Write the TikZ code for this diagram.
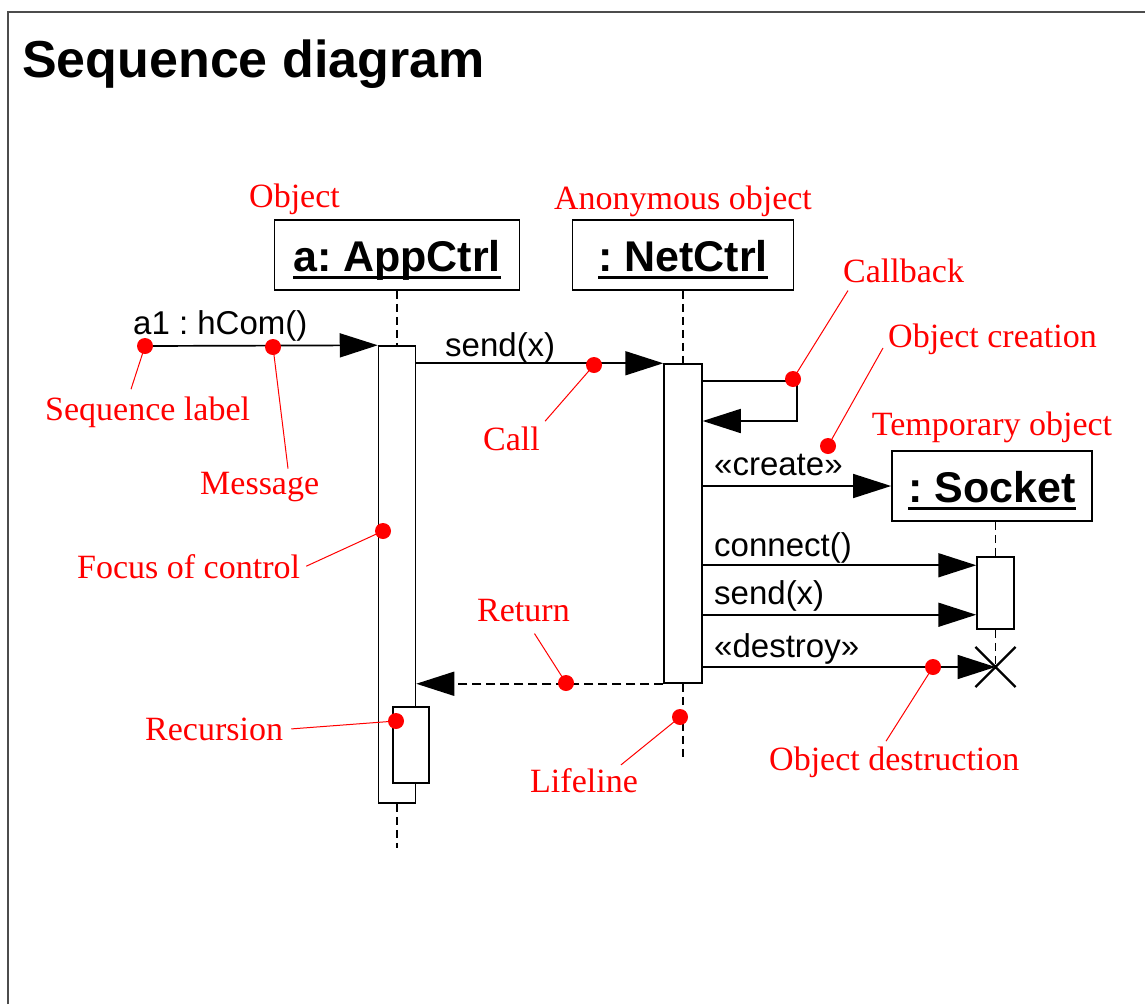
\documentclass[tikz,border=0pt]{standalone}
\usepackage{fontspec}
\setmainfont{Liberation Serif}
\setsansfont{Liberation Sans}
\usetikzlibrary{arrows.meta,positioning,shapes.misc}
\frenchspacing
\newcommand{\objname}[1]{\setbox0\hbox{#1}\rlap{\copy0}\rule[-8pt]{\wd0}{3pt}}

\begin{document}
\begin{tikzpicture}[x=1pt, y=-1pt,
  obj/.style={draw, line width=1.8pt, font=\sffamily\bfseries\fontsize{43}{50}\selectfont,
    minimum height=70pt, text height=36pt, text depth=4pt, inner sep=0pt},
  act/.style={draw, line width=1.5pt, fill=white, inner sep=0pt},
  msg/.style={-{Triangle[length=38pt, width=24pt]}, line width=1.7pt},
  life/.style={dash pattern=on 8pt off 5pt, line width=1.3pt},
  lbl/.style={anchor=base west, inner sep=0pt, font=\sffamily\fontsize{33}{39}\selectfont},
  note/.style={anchor=base west, inner sep=0pt, text=red, font=\fontsize{34}{40}\selectfont},
  dot/.style={circle, fill=red, inner sep=0pt, minimum size=16pt},
  pin/.style={red, line width=1pt}
]
\useasboundingbox (0,0) rectangle (1145,1004);
\draw[line width=2.5pt, black!70] (8,1004) -- (8,12) -- (1145,12);
\node[anchor=base west, inner sep=0pt, font=\sffamily\bfseries\fontsize{52}{60}\selectfont]
  (title) at (22,77) {Sequence diagram};

% objects
\node[obj, minimum width=245pt] (app) at (397,255) {\objname{a: AppCtrl}};
\node[obj, minimum width=221pt] (net) at (683,255) {\objname{: NetCtrl}};
\node[obj, minimum width=200pt] (sock) at (992,486) {\objname{: Socket}};

% activations
\node[act, minimum width=37pt, minimum height=457pt] (appAct) at (397,574.5) {};
\node[act, minimum width=36pt, minimum height=76pt] (rec) at (411,745) {};
\node[act, minimum width=38pt, minimum height=319pt] (netAct) at (683,523.5) {};
\node[act, minimum width=37pt, minimum height=72pt] (sockAct) at (995.5,593) {};
\node[draw, cross out, line width=2.2pt, minimum size=38pt, inner sep=0pt] (kill) at (995.5,667) {};

% lifelines
\coordinate (appEnd) at (397,848);
\coordinate (netEnd) at (683,760);
\draw[life] (app.south) -- (appAct.north);
\draw[life] (appAct.south) -- (appEnd);
\draw[life] (net.south) -- (netAct.north);
\draw[life] (netAct.south) -- (netEnd);
\draw[life] (sockAct.north |- sock.south) -- (sockAct.north);
\draw[life] (sockAct.south) -- (kill.center);

% messages
\coordinate (hStart) at (145,346);
\coordinate (cbTop) at (797,381);
\coordinate (cbBot) at (797,421);
\coordinate (cn) at ([yshift=-9pt]sockAct.north west);
\coordinate (sx) at ([yshift=15pt]sockAct.south west);
\draw[msg] (hStart) -- (appAct.north west);
\draw[msg] (appAct.east |- netAct.north) -- (netAct.north west);
\draw[msg] (netAct.east |- cbTop) -- (cbTop) -- (cbBot) -- (netAct.east |- cbBot);
\draw[msg] (netAct.east |- sock.west) -- (sock.west);
\draw[msg] (netAct.east |- cn) -- (cn);
\draw[msg] (netAct.east |- sx) -- (sx);
\draw[msg] (netAct.east |- kill) -- (kill.center);
\draw[msg, dash pattern=on 9pt off 5pt] (netAct.south west) -- (appAct.east |- netAct.south);

\node[lbl] (hCom) at (133,334) {a1 : hCom()};
\node[lbl] (sendA) at (445,356) {send(x)};
\node[lbl] (create) at (714,475) {«create»};
\node[lbl] (connect) at (714,556) {connect()};
\node[lbl] (sendB) at (714,604) {send(x)};
\node[lbl] (destroy) at (714,657) {«destroy»};

% notes
\node[note] (objNote) at (249,207) {Object};
\node[note, above=2pt of net] (anonNote) {Anonymous object};
\node[note, above=7pt of sock] (tmpNote) {Temporary object};
\node[note] (seqNote) at (45,420) {Sequence label};
\node[note] (msgNote) at (200,494) {Message};
\node[note] (focNote) at (77,578) {Focus of control};
\node[note] (recNote) at (145,740) {Recursion};
\node[note] (callNote) at (483,450) {Call};
\node[note] (retNote) at (477,621) {Return};
\node[note] (lifeNote) at (530,792) {Lifeline};
\node[note] (cbNote) at (843,282) {Callback};
\node[note] (newNote) at (888,347) {Object creation};
\node[note] (killNote) at (769,770) {Object destruction};

\coordinate (dSeqAt) at (hStart);
\draw[pin] (dSeqAt) -- ([shift={(86pt,7pt)}]seqNote.north west);
\draw[pin] (273,347) coordinate (dMsgAt) -- ([shift={(88pt,3pt)}]msgNote.north west);
\draw[pin] (383,531) coordinate (dFocAt) -- ([xshift=6pt]focNote.east);
\draw[pin] (396,721) coordinate (dRecAt) -- ([xshift=8pt]recNote.east);
\draw[pin] (594,365) coordinate (dCallAt) -- ([shift={(5pt,5pt)}]callNote.north east);
\draw[pin] (566,683) coordinate (dRetAt) -- ([shift={(11pt,-12pt)}]retNote.south);
\draw[pin] (680,717) coordinate (dLifeAt) -- ([shift={(-17pt,3pt)}]lifeNote.north east);
\draw[pin] (793,379) coordinate (dCbAt) -- ([shift={(5pt,-8pt)}]cbNote.south west);
\draw[pin] (828,446) coordinate (dNewAt) -- ([shift={(-5pt,-1pt)}]newNote.base west);
\draw[pin] (933,667) coordinate (dKillAt) -- ([shift={(117pt,5pt)}]killNote.north west);

\foreach \p in {dSeqAt,dMsgAt,dFocAt,dRecAt,dCallAt,dRetAt,dLifeAt,dCbAt,dNewAt,dKillAt}
  \node[dot] at (\p) {};
\end{tikzpicture}
\end{document}
